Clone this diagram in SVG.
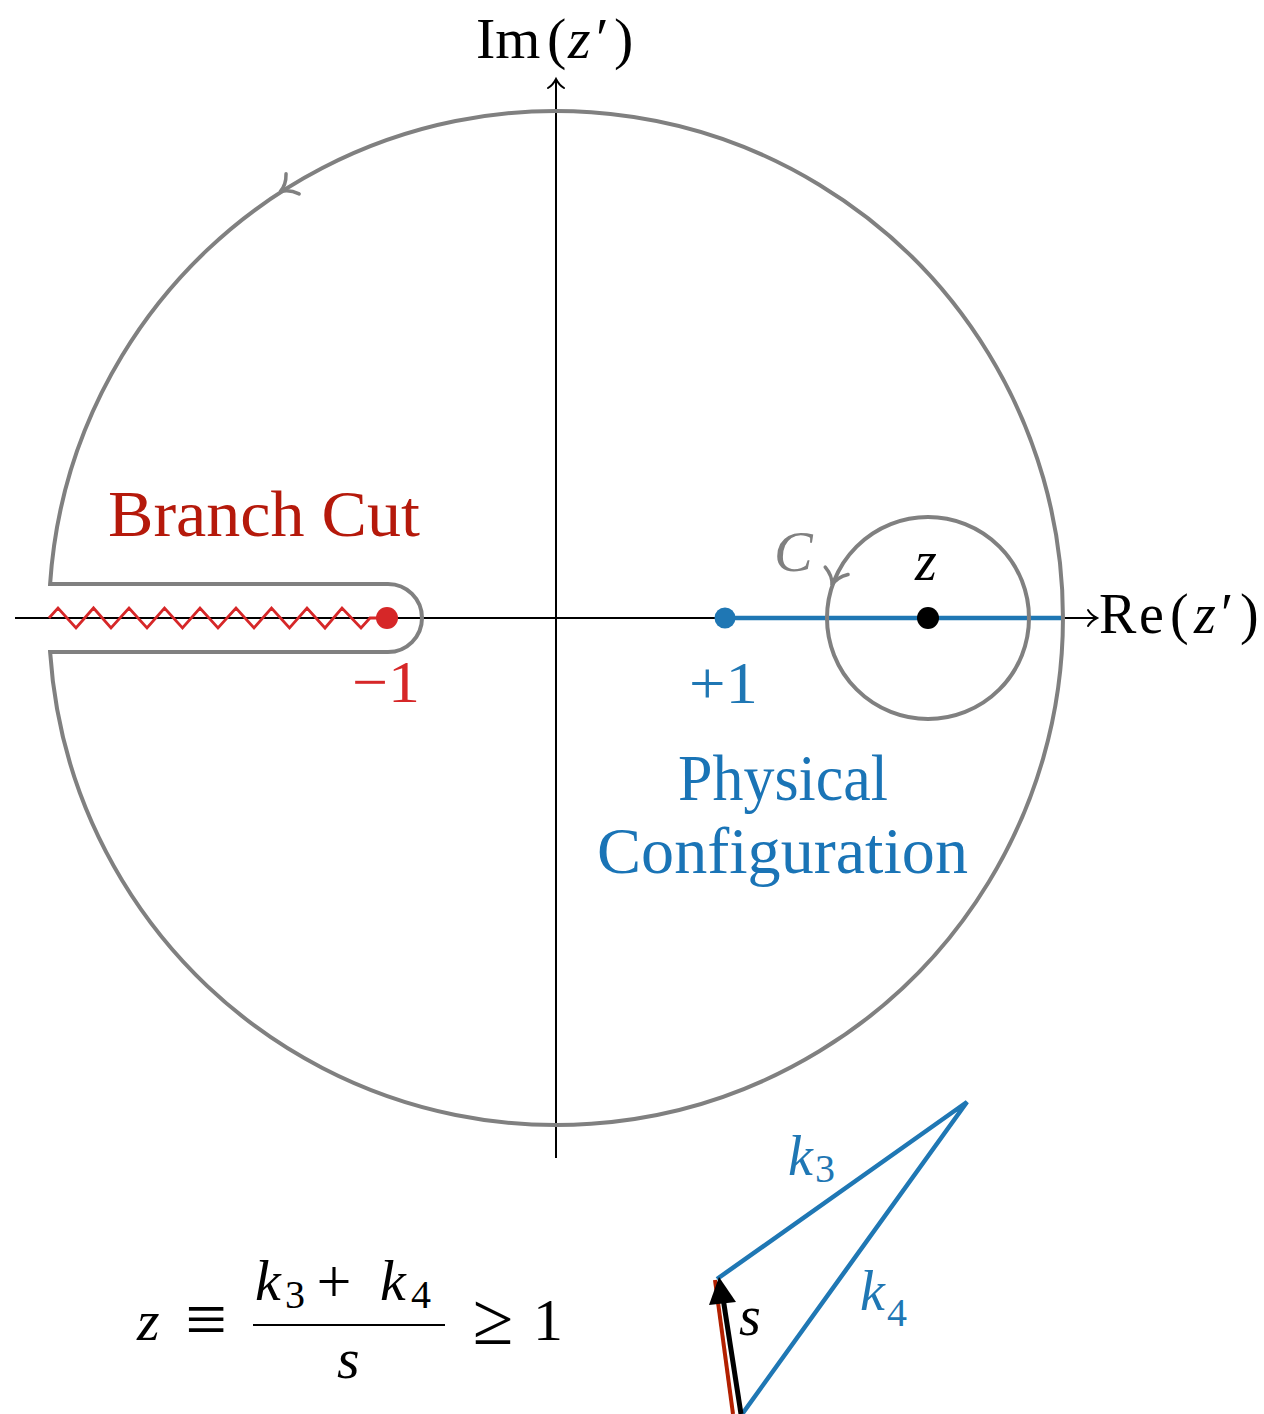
<svg xmlns="http://www.w3.org/2000/svg" width="1264" height="1414" viewBox="0 0 1264 1414">
<style>
.txt{font-family:"Liberation Serif","DejaVu Serif",serif;}
.it{font-family:"Liberation Serif","DejaVu Serif",serif;font-style:italic;}
.gray{fill:none;stroke:#808080;stroke-width:4;}
.axis{fill:none;stroke:#000;stroke-width:2;}
.tip{fill:none;stroke-linecap:round;stroke-width:2;}
.gtip{fill:none;stroke:#808080;stroke-linecap:round;stroke-width:3.5;}
.blue{fill:#1f77b4;}
.bluel{stroke:#1f77b4;stroke-width:4.5;fill:none;}
</style>
<defs>
<path id="toTip" d="M -9,-8 C -6,-3 -2,-1 0,0 C -2,1 -6,3 -9,8"/>
<path id="bigTip" d="M -15,-12 C -10,-4 -4,-1 0,0 C -4,1 -10,4 -15,12"/>
</defs>
<rect width="1264" height="1414" fill="#fff"/>

<g id="connectors">
  <line class="axis" x1="15" y1="618" x2="1096" y2="618"/>
  <use href="#toTip" transform="translate(1097,618)" class="tip" stroke="#000"/>
  <line class="axis" x1="556" y1="1158" x2="556" y2="80"/>
  <use href="#toTip" transform="translate(556,79) rotate(-90)" class="tip" stroke="#000"/>
  <line class="bluel" x1="725" y1="618" x2="1063" y2="618"/>
</g>

<g id="big-contour">
  <path class="gray" d="M 50.1 652 A 507 507 0 1 0 50.1 584 L 388 584 A 34 34 0 0 1 388 652 Z"/>
  <use href="#bigTip" transform="translate(280,192) rotate(147)" class="gtip"/>
</g>

<g id="branch-cut">
  <polyline fill="none" stroke="#d62728" stroke-width="2.8" stroke-linejoin="miter" points="49,618 58,608 76,628 93.5,608 111,628 129,608 147,628 164.5,608 182.5,628 200,608 218,628 236,608 254,628 271.5,608 289.5,628 307,608 325,628 342,608 361,628 370,618 387,618"/>
  <circle cx="387" cy="618" r="11" fill="#d62728"/>
  <text class="txt" x="108" y="536" font-size="66" fill="#b5190b" textLength="312" lengthAdjust="spacingAndGlyphs">Branch Cut</text>
  <text class="txt" x="352" y="702" font-size="60" fill="#d62728" textLength="68" lengthAdjust="spacingAndGlyphs">−1</text>
</g>

<g id="physical">
  <circle cx="725" cy="618" r="10.5" class="blue"/>
  <text class="txt" x="689" y="703" font-size="60" fill="#1f77b4" textLength="69" lengthAdjust="spacingAndGlyphs">+1</text>
  <text class="txt" x="678" y="800" font-size="66" fill="#1a74b6" textLength="210" lengthAdjust="spacingAndGlyphs">Physical</text>
  <text class="txt" x="597" y="873" font-size="66" fill="#1a74b6" textLength="371" lengthAdjust="spacingAndGlyphs">Configuration</text>
</g>

<g id="small-contour">
  <circle class="gray" cx="928" cy="618" r="101"/>
  <use href="#bigTip" transform="translate(832,585) rotate(108)" class="gtip"/>
  <circle cx="928" cy="618" r="11" fill="#000"/>
  <text class="it" x="915" y="580" font-size="56">z</text>
  <text class="it" x="774" y="571" font-size="58" fill="#808080">C</text>
</g>

<g id="axis-labels">
  <text class="txt" y="58" font-size="58"><tspan x="476">Im</tspan><tspan x="547">(</tspan><tspan class="it" x="568">z</tspan><tspan x="596">′</tspan><tspan x="614">)</tspan></text>
  <text class="txt" y="633" font-size="56"><tspan x="1099">R</tspan><tspan x="1139">e</tspan><tspan x="1170">(</tspan><tspan class="it" x="1194">z</tspan><tspan x="1221">′</tspan><tspan x="1240">)</tspan></text>
</g>

<g id="equation">
  <text class="it" x="137" y="1340" font-size="58">z</text>
  <text class="txt" x="206" y="1344" font-size="74" text-anchor="middle">≡</text>
  <line x1="253" y1="1325" x2="445" y2="1325" stroke="#000" stroke-width="2"/>
  <text class="it" x="255" y="1300" font-size="58">k</text>
  <text class="txt" x="285" y="1308" font-size="40">3</text>
  <text class="txt" x="334" y="1302" font-size="62" text-anchor="middle">+</text>
  <text class="it" x="380" y="1300" font-size="58">k</text>
  <text class="txt" x="411" y="1308" font-size="40">4</text>
  <text class="it" x="337" y="1378" font-size="58">s</text>
  <text class="txt" x="493" y="1344" font-size="74" text-anchor="middle">≥</text>
  <text class="txt" x="533" y="1340" font-size="60">1</text>
</g>

<g id="triangle">
  <polyline class="bluel" points="717,1279 967,1102 735,1424"/>
  <line x1="733" y1="1414" x2="715" y2="1280" stroke="#b22000" stroke-width="4"/>
  <line x1="741" y1="1414" x2="723" y2="1298" stroke="#000" stroke-width="5"/>
  <polygon points="719,1277 736,1302 709,1305" fill="#000"/>
  <text class="it" x="788" y="1175" font-size="56" fill="#1f77b4">k</text>
  <text class="txt" x="815" y="1182" font-size="40" fill="#1f77b4">3</text>
  <text class="it" x="860" y="1310" font-size="56" fill="#1f77b4">k</text>
  <text class="txt" x="887" y="1326" font-size="40" fill="#1f77b4">4</text>
  <text class="it" x="739" y="1335" font-size="56">s</text>
</g>
</svg>
